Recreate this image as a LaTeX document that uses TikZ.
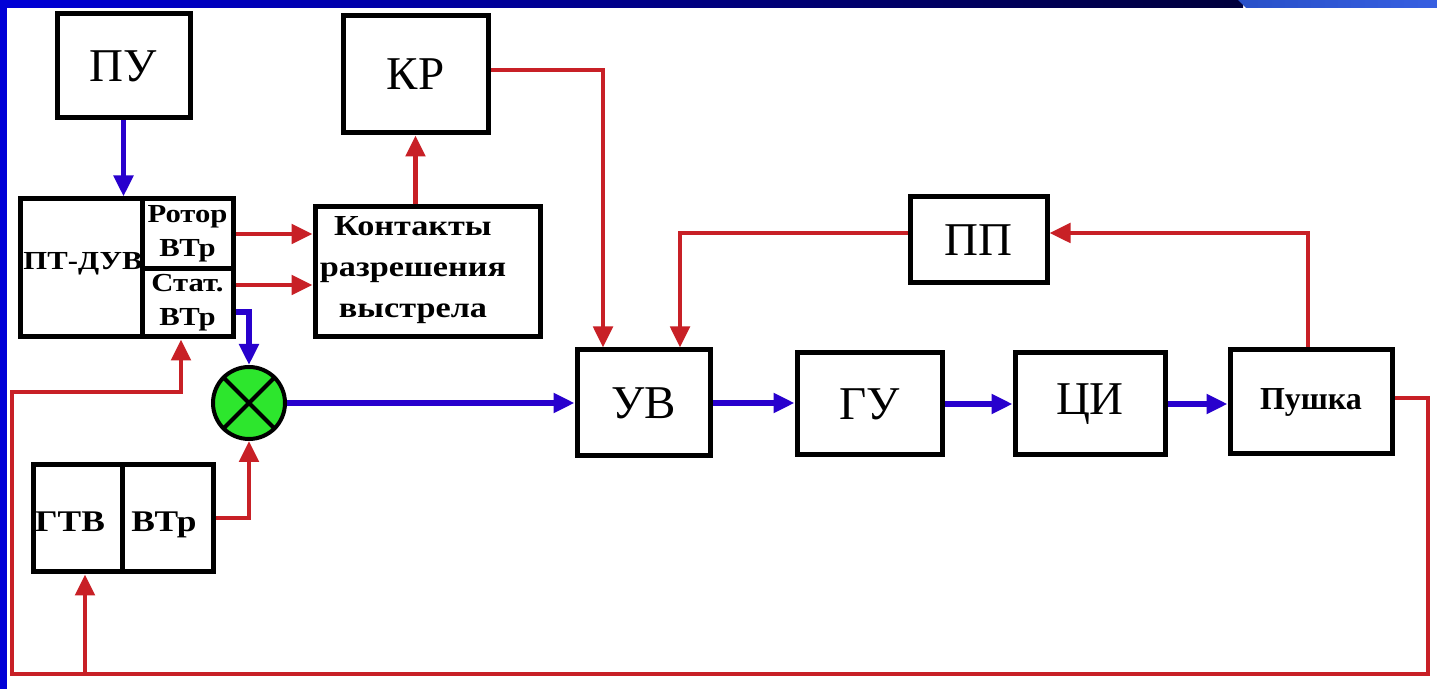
\documentclass[tikz,border=0pt]{standalone}
\usepackage{fontspec}
\setmainfont{Liberation Serif}
\newfontfamily\bstr[FakeStretch=1.18]{Liberation Serif}
\usetikzlibrary{arrows.meta}
\definecolor{rl}{RGB}{200,32,38}
\definecolor{bl}{RGB}{40,0,205}
\definecolor{sg}{RGB}{45,230,45}
\definecolor{frameblue}{RGB}{0,0,215}
\definecolor{navy}{RGB}{0,0,60}
\definecolor{lb1}{RGB}{40,80,200}
\definecolor{lb2}{RGB}{55,95,225}
\tikzset{
  box/.style={draw, line width=2.5pt, inner sep=0pt, align=center},
  bigtxt/.style={font=\fontsize{23.5}{25}\selectfont},
  smalltxt/.style={font=\bstr\bfseries\fontsize{13}{17}\selectfont},
  redline/.style={draw=rl, line width=2.4pt, -{Triangle[length=10.5pt,width=9.5pt]}},
  blueline/.style={draw=bl, line width=2.8pt, -{Triangle[length=10.5pt,width=9.5pt]}},
}
\begin{document}
\begin{tikzpicture}[x=0.5pt,y=-0.5pt]
\useasboundingbox (0,0) rectangle (1437,689);
\fill[white] (0,0) rectangle (1437,689);
% frame
\shade[left color=frameblue, right color=navy] (0,0) rectangle (1243,8);
\shade[left color=lb1, right color=lb2] (1238,0) -- (1437,0) -- (1437,8) -- (1246,8) -- cycle;
\fill[frameblue] (0,0) rectangle (7,689);

% nodes
\node[box, bigtxt, minimum width=66.5pt, minimum height=52pt] (pu) at (123.5,66) {ПУ};
\node[box, bigtxt, minimum width=72.5pt, minimum height=58.5pt] (kr) at (415.5,74.5) {КР};
\node[box, minimum width=61pt, minimum height=69pt] (ptl) at (81,268) {};
\node[smalltxt, inner sep=0pt] (ptlt) at (83,264) {ПТ-ДУВ};
\node[box, smalltxt, minimum width=45.5pt, minimum height=35pt] (rot) at (187.5,234) {Ротор\\ВТр};
\node[box, smalltxt, minimum width=45.5pt, minimum height=34pt] (stat) at (187.5,303) {Стат.\\ВТр};
\node[box, minimum width=112.5pt, minimum height=65pt] (kont) at (427.5,272) {};
\node[align=center, inner sep=0pt, font=\bstr\bfseries\fontsize{14.5}{20.5}\selectfont] (konttxt) at (413,270) {Контакты\\разрешения\\выстрела};
\node[box, minimum width=44.5pt, minimum height=53.5pt] (gtv) at (77.5,518.5) {};
\node[inner sep=0pt, font=\bstr\bfseries\fontsize{15}{17}\selectfont] (gtvtxt) at (70,522) {ГТВ};
\node[box, minimum width=45.5pt, minimum height=53.5pt] (vtr) at (167.5,518.5) {};
\node[inner sep=0pt, font=\bstr\bfseries\fontsize{15}{17}\selectfont] (vtrtxt) at (164,525) {ВТр};
\node[box, bigtxt, minimum width=66.5pt, minimum height=53pt] (uv) at (643.5,403) {УВ};
\node[box, bigtxt, minimum width=72.5pt, minimum height=51pt] (gu) at (869.5,404) {ГУ};
\node[box, bigtxt, minimum width=75pt, minimum height=51pt] (ci) at (1090,404) {ЦИ};
\node[box, font=\bfseries\fontsize{16}{18}\selectfont, minimum width=81pt, minimum height=52pt] (push) at (1311,402) {Пушка};
\node[box, bigtxt, minimum width=68.5pt, minimum height=43pt] (pp) at (978.5,240) {ПП};
\node[circle, draw, line width=2pt, fill=sg, minimum size=36pt, inner sep=0pt] (sum) at (249,403) {};
\draw[line width=2pt] (sum.north east) -- (sum.south west) (sum.north west) -- (sum.south east);

% helper coordinates
\coordinate (c285) at (0,285);
\coordinate (c312) at (249,312);
\coordinate (krUv) at (603,70);
\coordinate (pp1) at (1308,233);
\coordinate (pp2) at (680,233);
\coordinate (r1) at (1428,398);
\coordinate (r2) at (1428,674);
\coordinate (r3) at (12,674);
\coordinate (r4) at (12,392);
\coordinate (r5) at (181,392);
\coordinate (b1) at (85,674);
\coordinate (v1) at (249,518);

% connectors
\draw[blueline] (pu.south) -- (pu.south |- ptl.north);
\draw[redline] (rot.east) -- (rot.east -| kont.west);
\draw[redline] (stat.east |- c285) -- (kont.west |- c285);
\draw[blueline] (stat.east |- c312) -- (c312) -- (sum.north);
\draw[redline] (kr.south |- kont.north) -- (kr.south);
\draw[redline] (kr.east |- krUv) -- (krUv) -- (krUv |- uv.north);
\draw[blueline] (sum.east) -- (uv.west |- sum.east);
\draw[blueline] (uv.east) -- (uv.east -| gu.west);
\draw[blueline] (gu.east) -- (gu.east -| ci.west);
\draw[blueline] (ci.east) -- (ci.east -| push.west);
\draw[redline] (push.north -| pp1) -- (pp1) -- (pp.east |- pp1);
\draw[redline] (pp.west |- pp2) -- (pp2) -- (pp2 |- uv.north);
\draw[redline] (push.east |- r1) -- (r1) -- (r2) -- (r3) -- (r4) -- (r5) -- (r5 |- stat.south);
\draw[redline] (b1) -- (b1 |- gtv.south);
\draw[redline] (vtr.east |- v1) -- (v1) -- (sum.south);
\end{tikzpicture}
\end{document}
